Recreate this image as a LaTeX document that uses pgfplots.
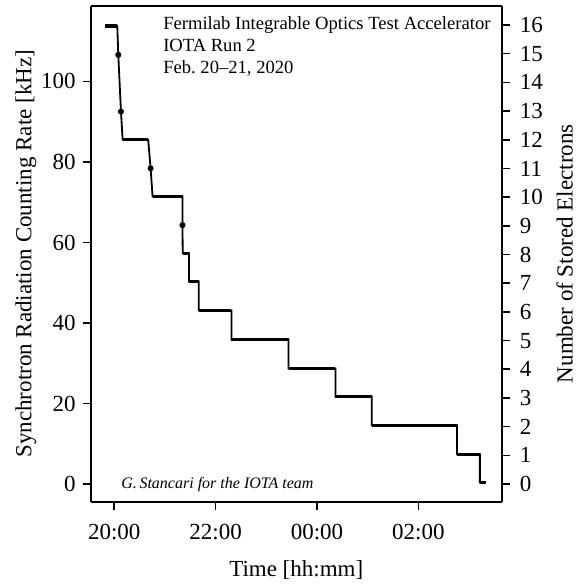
\documentclass[border=0pt]{standalone}
\usepackage{pgfplots}
\pgfplotsset{compat=1.18}
\usepackage{fontspec}
\setmainfont{Liberation Serif}
\begin{document}
\begin{tikzpicture}
\pgfplotsset{
  common/.style={
    scale only axis, width=205.5pt, height=248pt,
    at={(0,0)}, anchor=south west,
    xmin=19.535, xmax=27.646,
    tick align=outside, major tick length=4pt,
    axis line style={line width=0.9pt},
    every tick/.style={line width=0.8pt, black},
    tick label style={font=\fontsize{11.5}{13}\selectfont},
    label style={font=\fontsize{11.5}{13}\selectfont},
    /pgf/number format/assume math mode=true,
  }
}
\begin{axis}[common,
  axis x line*=bottom, axis y line*=left,
  ymin=-4.4, ymax=118.8,
  ytick={0,20,40,60,80,100},
  xtick={20,22,24,26},
  xticklabels={20:00,22:00,00:00,02:00},
  xticklabel style={yshift=-3.5pt},
  xlabel={Time [hh:mm]},
  ylabel={Synchrotron Radiation Counting Rate [kHz]},
  xlabel style={at={(axis description cs:0.5,-0.1377)}, anchor=center},
  ylabel style={at={(axis description cs:-0.158,0.5)}, anchor=center},
  unbounded coords=jump,
]
\addplot[black, line width=0.9pt] coordinates {
(19.817,113.8) (20.059,113.8) (20.079,106.6) (20.132,92.5) (20.165,85.5)
(20.669,85.5) (20.717,78.4) (20.756,71.4)
(21.346,71.4) (21.346,64.3) (21.35,57.3)
(21.476,57.3) (21.476,50.3)
(21.667,50.3) (21.667,43.1)
(22.311,43.1) (22.311,35.9)
(23.439,35.9) (23.439,28.7)
(24.364,28.7) (24.364,21.7)
(25.079,21.7) (25.079,14.6)
(26.760,14.6) (26.760,7.4)
(27.213,7.4) (27.213,0.4)
(27.331,0.4)
};
\addplot[black, line width=1.7pt] coordinates {
(19.817,113.8) (20.059,113.8) (20.06,nan)
(20.165,85.5) (20.669,85.5) (20.67,nan)
(20.756,71.4) (21.346,71.4) (21.347,nan)
(21.35,57.3) (21.476,57.3) (21.477,nan)
(21.476,50.3) (21.667,50.3) (21.668,nan)
(21.667,43.1) (22.311,43.1) (22.312,nan)
(22.311,35.9) (23.439,35.9) (23.44,nan)
(23.439,28.7) (24.364,28.7) (24.365,nan)
(24.364,21.7) (25.079,21.7) (25.08,nan)
(25.079,14.6) (26.760,14.6) (26.761,nan)
(26.760,7.4) (27.213,7.4) (27.214,nan)
(27.213,0.4) (27.331,0.4)
};
\addplot[black, only marks, mark=*, mark size=1.3pt] coordinates {
(20.079,106.6) (20.132,92.5) (20.717,78.4) (21.346,64.3)
};
\node[anchor=north west, align=left, font=\fontsize{9.3}{11}\selectfont, inner sep=0pt]
  at (axis description cs:0.1755,0.9785) {Fermilab Integrable Optics Test Accelerator\\IOTA Run 2\\Feb.\ 20--21, 2020};
\node[anchor=west, font=\fontsize{8}{10}\itshape, inner sep=0pt]
  at (axis description cs:0.0735,0.0356) {G.\,Stancari for the IOTA team};
\end{axis}
\begin{axis}[common,
  axis x line=none, axis y line*=right,
  ymin=-0.617, ymax=16.67,
  ytick={0,1,...,16},
  yticklabel style={xshift=1.5pt},
  ylabel={Number of Stored Electrons},
  ylabel style={at={(axis description cs:1.153,0.5)}, anchor=center},
]
\end{axis}
\draw[line width=0.9pt] (0,248pt) -- (205.5pt,248pt);
\pgfresetboundingbox
\useasboundingbox (-45.35pt,-41.6pt) rectangle (246pt,250.85pt);
\end{tikzpicture}
\end{document}
